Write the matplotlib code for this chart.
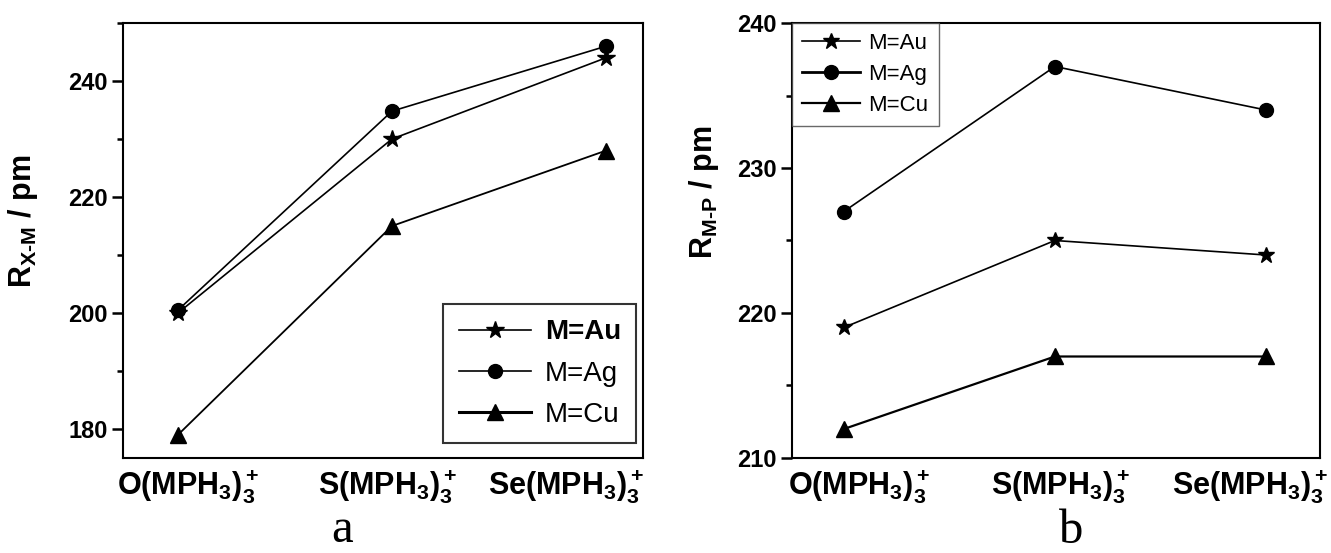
import matplotlib
matplotlib.use('Agg')
import matplotlib.pyplot as plt
import matplotlib.transforms as mtransforms
from matplotlib.ticker import MultipleLocator

plt.rcParams['font.family'] = ['Liberation Sans', 'DejaVu Sans']
plt.rcParams['font.weight'] = 'bold'
plt.rcParams['axes.labelweight'] = 'bold'
plt.rcParams['mathtext.fontset'] = 'custom'
plt.rcParams['mathtext.rm'] = 'Liberation Sans:bold'
plt.rcParams['mathtext.bf'] = 'Liberation Sans:bold'
plt.rcParams['mathtext.it'] = 'Liberation Sans:bold:italic'
plt.rcParams['mathtext.sf'] = 'Liberation Sans'

# data
species = [r'O(MPH$_3$)$_3^+$', r'S(MPH$_3$)$_3^+$', r'Se(MPH$_3$)$_3^+$']
xpos = [0, 1, 2]

# panel a: X-M distance
au_xm = [200, 230, 244]
ag_xm = [200.5, 234.8, 246]
cu_xm = [179, 215, 228]

# panel b: M-P distance
au_mp = [219, 225, 224]
ag_mp = [227, 237, 234]
cu_mp = [212, 217, 217]

labels = ['M=Au', 'M=Ag', 'M=Cu']

fig = plt.figure(figsize=(13.31, 5.53), dpi=100)
ax1 = fig.add_axes([0.0924, 0.1718, 0.3907, 0.7866])
ax2 = fig.add_axes([0.595, 0.1718, 0.3967, 0.7866])


def style_axes(ax, label_offsets):
    for sp in ax.spines.values():
        sp.set_linewidth(1.5)
    ax.tick_params(axis='y', which='major', length=8, width=1.8, labelsize=17, pad=3)
    ax.tick_params(axis='y', which='minor', length=4.5, width=1.8)
    ax.tick_params(axis='x', length=0, labelsize=22, pad=7)
    ax.set_xticks(xpos)
    ax.set_xticklabels(species)
    for lab, dx in zip(ax.get_xticklabels(), label_offsets):
        lab.set_transform(lab.get_transform() +
                          mtransforms.ScaledTranslation(dx / 100, 0, fig.dpi_scale_trans))


# ---- panel a
ax1.plot(xpos, au_xm, 'k-', marker='*', ms=13, lw=1.2, label=labels[0])
ax1.plot(xpos, ag_xm, 'k-', marker='o', ms=10, lw=1.2, label=labels[1])
ax1.plot(xpos, cu_xm, 'k-', marker='^', ms=12, lw=1.3, label=labels[2])
ax1.set_xlim(-0.257, 2.173)
ax1.set_ylim(175, 250)
ax1.yaxis.set_major_locator(MultipleLocator(20))
ax1.yaxis.set_minor_locator(MultipleLocator(10))
style_axes(ax1, [10, -4, -40])
ax1.set_ylabel(r'R$_{\mathsf{X\text{-}M}}$ / pm', fontsize=22)
ax1.yaxis.set_label_coords(-0.16, 0.545)

leg1 = ax1.legend(loc='lower right', bbox_to_anchor=(0.987, 0.034), fontsize=20,
                  handlelength=2.6, labelspacing=0.55, borderpad=0.55,
                  handletextpad=0.5, fancybox=False, frameon=True, borderaxespad=0)
leg1.get_frame().set_edgecolor('black')
leg1.get_frame().set_linewidth(1.5)
leg1.get_lines()[2].set_linewidth(2.2)
for i, t in enumerate(leg1.get_texts()):
    t.set_fontweight('bold' if i == 0 else 'normal')

fig.text(0.257, 0.002, 'a', fontsize=35, family='Liberation Serif',
         fontweight='normal', ha='center', va='bottom')

# ---- panel b
ax2.plot(xpos, au_mp, 'k-', marker='*', ms=12, lw=1.2, label=labels[0])
ax2.plot(xpos, ag_mp, 'k-', marker='o', ms=10, lw=1.2, label=labels[1])
ax2.plot(xpos, cu_mp, 'k-', marker='^', ms=12, lw=1.6, label=labels[2])
ax2.set_xlim(-0.246, 2.256)
ax2.set_ylim(210, 240)
ax2.yaxis.set_major_locator(MultipleLocator(10))
ax2.yaxis.set_minor_locator(MultipleLocator(5))
style_axes(ax2, [15, 6, -16])
ax2.set_ylabel(r'R$_{\mathsf{M\text{-}P}}$ / pm', fontsize=22)
ax2.yaxis.set_label_coords(-0.134, 0.61)

leg2 = ax2.legend(loc='upper left', bbox_to_anchor=(0.0, 1.0), fontsize=16,
                  handlelength=2.6, labelspacing=0.45, borderpad=0.45,
                  handletextpad=0.4, fancybox=False, frameon=True, borderaxespad=0)
leg2.get_frame().set_edgecolor('#444444')
leg2.get_frame().set_linewidth(1.0)
leg2.get_lines()[1].set_linewidth(2.0)
for t in leg2.get_texts():
    t.set_fontweight('normal')

fig.text(0.805, 0.0, 'b', fontsize=35, family='Liberation Serif',
         fontweight='normal', ha='center', va='bottom')

fig.savefig('out.png', dpi=100)
